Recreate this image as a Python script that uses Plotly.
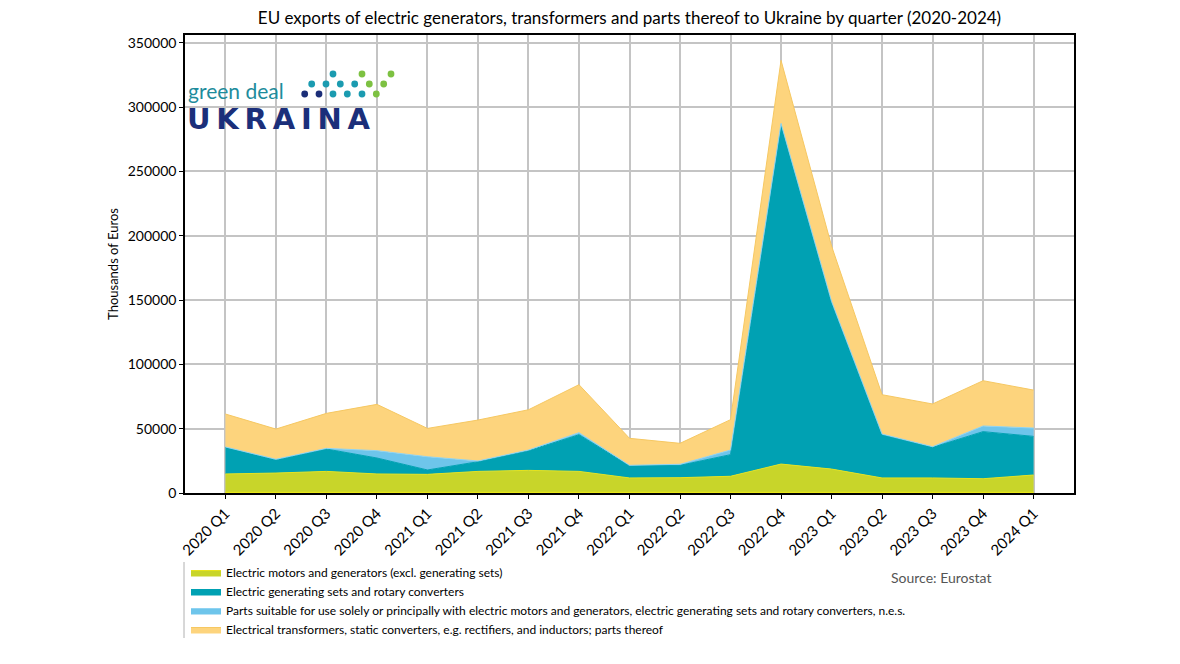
import plotly.graph_objects as go

quarters = ["2020 Q1", "2020 Q2", "2020 Q3", "2020 Q4", "2021 Q1", "2021 Q2", "2021 Q3", "2021 Q4",
            "2022 Q1", "2022 Q2", "2022 Q3", "2022 Q4", "2023 Q1", "2023 Q2", "2023 Q3", "2023 Q4", "2024 Q1"]

motors = [14800, 15500, 16800, 14800, 14500, 16800, 17600, 16800, 11700, 11900, 13000, 22500, 18600, 11700, 11700, 11100, 14000]
gen_sets = [20700, 10400, 17400, 12400, 3400, 7500, 15300, 28500, 9500, 9600, 16800, 264300, 129400, 33600, 23800, 36600, 30000]
parts = [300, 300, 500, 5700, 10300, 600, 500, 1600, 300, 800, 3600, 500, 1000, 500, 500, 4400, 6500]
transformers = [25600, 23500, 27200, 36000, 22000, 31800, 31300, 37300, 21000, 16300, 23600, 49000, 43000, 30600, 33200, 35200, 29500]

names = [
    "Electric motors and generators (excl. generating sets)",
    "Electric generating sets and rotary converters",
    "Parts suitable for use solely or principally with electric motors and generators, electric generating sets and rotary converters, n.e.s.",
    "Electrical transformers, static converters, e.g. rectifiers, and inductors; parts thereof",
]
fills = ["#c8d52a", "#00a1b3", "#6ec5eb", "#fdd47d"]
edges = ["#e6e31c", "#00a1b3", "#8fd3f2", "#f6c862"]
series = [motors, gen_sets, parts, transformers]

FONT = "Lato"

fig = go.Figure()
for nm, vals, fc, ec in zip(names, series, fills, edges):
    fig.add_trace(go.Scatter(
        x=quarters, y=vals, name=nm, mode="lines", stackgroup="one",
        fillcolor=fc, line=dict(color=ec, width=1), hoverinfo="x+y+name",
    ))

W, H = 1180, 664
L, R, T, B = 185, 1074, 35, 493
PW, PH = R - L, B - T


def px(x):
    return (x - L) / PW


def py(y):
    return (B - y) / PH


shapes = []
# baseline yellow edge
shapes.append(dict(type="line", xref="x", yref="y", x0=quarters[0], x1=quarters[-1], y0=0, y1=0,
                   line=dict(color="#e8e61a", width=2.5), layer="above"))
# legend left bracket line
shapes.append(dict(type="line", xref="paper", yref="paper", x0=px(184), x1=px(184), y0=py(562), y1=py(638),
                   line=dict(color="#b0b0b0", width=1)))
# logo dots
teal_d, green_d, navy_d = "#1b9bb0", "#7dc142", "#1b2e78"
dots = [
    (333, 74, teal_d), (362, 74, green_d), (391, 74, green_d),
    (311.7, 84, teal_d), (326, 84, teal_d), (340.3, 84, teal_d), (354.7, 84, teal_d), (369.3, 84, green_d), (383.7, 84, green_d),
    (304.7, 94, navy_d), (319, 94, navy_d), (333, 94, teal_d), (347.3, 94, teal_d), (362, 94, teal_d), (376.3, 94, green_d),
]
r = 3.4
for (cx, cy, c) in dots:
    shapes.append(dict(type="circle", xref="paper", yref="paper", x0=px(cx - r), x1=px(cx + r),
                       y0=py(cy + r), y1=py(cy - r), fillcolor=c, line=dict(width=0), layer="above"))

annotations = [
    dict(text="Source: Eurostat", xref="paper", yref="paper", x=px(889), y=py(577), xanchor="left",
         yanchor="middle", showarrow=False, font=dict(family=FONT, size=14, color="#555555")),
    dict(text="green deal", xref="paper", yref="paper", x=px(186), y=py(90), xanchor="left",
         yanchor="middle", showarrow=False, font=dict(family=FONT, size=21, color="#1e8c9c")),
    dict(text="<b>U\u2009K\u2009R\u2009A\u2009I\u2009N\u2009A</b>", xref="paper", yref="paper", x=px(185), y=py(119),
         xanchor="left", yanchor="middle", showarrow=False,
         font=dict(family="DejaVu Sans", size=29, color="#1b2f7a")),
]

fig.update_layout(
    width=W, height=H,
    margin=dict(l=L, r=W - R, t=T, b=H - B, autoexpand=False),
    paper_bgcolor="white", plot_bgcolor="white",
    font=dict(family=FONT, color="black"),
    title=dict(text="EU exports of electric generators, transformers and parts thereof to Ukraine by quarter (2020-2024)",
               x=(L + R) / 2 / W, xanchor="center", y=1 - 18 / H, yanchor="middle",
               font=dict(family=FONT, size=17, color="black")),
    xaxis=dict(type="category", range=[-0.8, 16.8], showgrid=True, gridcolor="#c4c4c4", gridwidth=1.5,
               tickangle=-45, tickfont=dict(family=FONT, size=15), ticks="outside", ticklen=4,
               tickcolor="black", showline=True, linecolor="black", linewidth=1.5, mirror=True),
    yaxis=dict(range=[0, 356000], dtick=50000, showgrid=True, gridcolor="#c4c4c4", gridwidth=1.5,
               tickfont=dict(family=FONT, size=14), ticks="outside", ticklen=4, tickcolor="black",
               showline=True, linecolor="black", linewidth=1.5, mirror=True, zeroline=False,
               tickformat="d",
               title=dict(text="Thousands of Euros", font=dict(family=FONT, size=13), standoff=6)),
    legend=dict(x=px(186), y=py(558), xanchor="left", yanchor="top", traceorder="normal",
                font=dict(family=FONT, size=12), bgcolor="rgba(0,0,0,0)", tracegroupgap=0, itemwidth=30),
    shapes=shapes, annotations=annotations,
    hovermode="x unified",
)

fig.write_html("out.html")
